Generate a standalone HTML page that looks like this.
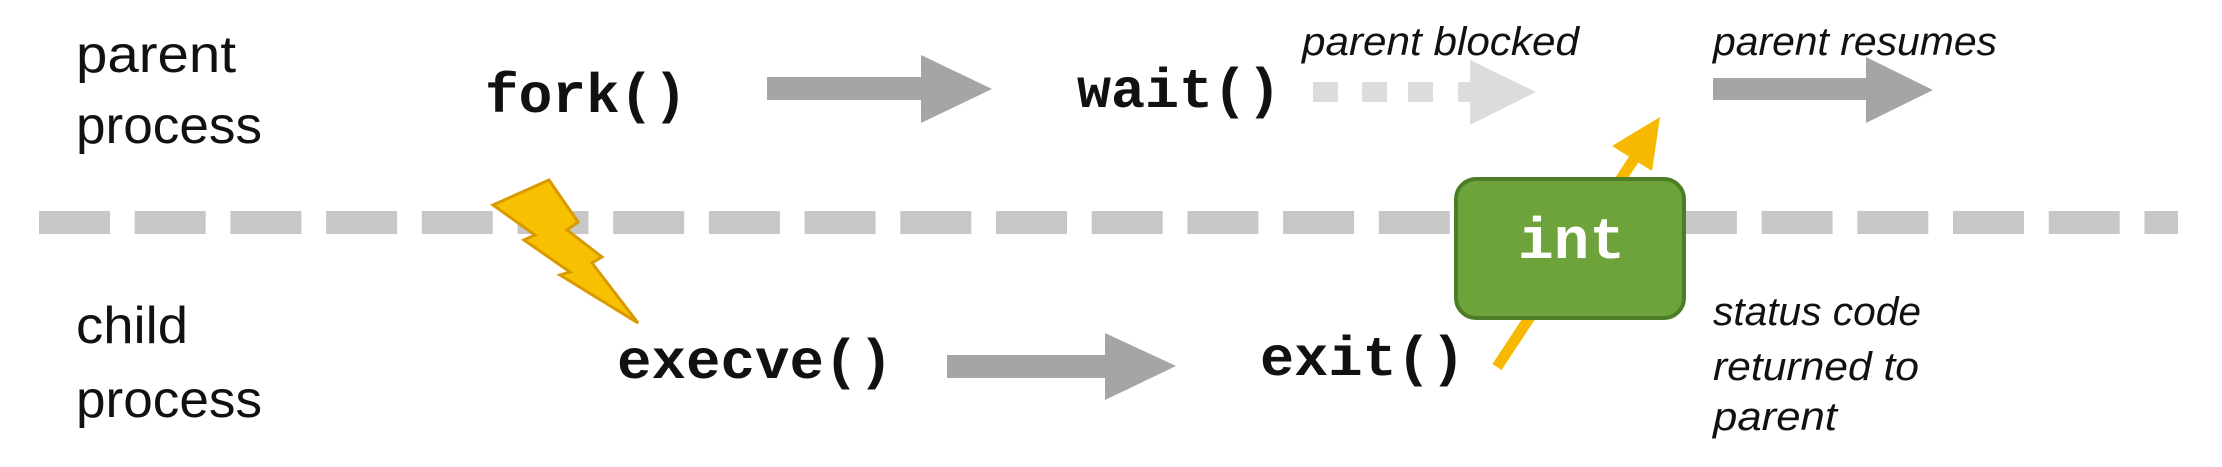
<!DOCTYPE html>
<html><head><meta charset="utf-8"><style>
html,body{margin:0;padding:0;background:#fff;}
svg{display:block;}
</style></head><body>
<svg width="2222" height="467" viewBox="0 0 2222 467" xmlns="http://www.w3.org/2000/svg">
<rect width="2222" height="467" fill="#fff"/>
<line x1="39" y1="222.5" x2="2178" y2="222.5" stroke="#c8c7c7" stroke-width="23" stroke-dasharray="71 24.7"/>
<g font-family="Liberation Sans, sans-serif" font-size="52" fill="#111">
<text x="76" y="72" textLength="160" lengthAdjust="spacingAndGlyphs">parent</text>
<text x="76" y="143" textLength="186" lengthAdjust="spacingAndGlyphs">process</text>
<text x="76" y="343" textLength="112" lengthAdjust="spacingAndGlyphs">child</text>
<text x="76" y="417" textLength="186" lengthAdjust="spacingAndGlyphs">process</text>
</g>
<g font-family="Liberation Mono, monospace" font-weight="bold" font-size="56" fill="#111">
<text x="485" y="112" textLength="202" lengthAdjust="spacingAndGlyphs">fork()</text>
<text x="1077" y="107" textLength="204" lengthAdjust="spacingAndGlyphs">wait()</text>
<text x="617" y="378" textLength="276" lengthAdjust="spacingAndGlyphs">execve()</text>
<text x="1260" y="375" textLength="205" lengthAdjust="spacingAndGlyphs">exit()</text>
</g>
<polygon points="767,77 921,77 921,55 992,89 921,123 921,100 767,100" fill="#a6a5a5"/>
<polygon points="947,355 1105,355 1105,333 1176,366 1105,400 1105,378 947,378" fill="#a6a5a5"/>
<polygon points="1713,78 1866,78 1866,57 1933,90 1866,123 1866,100 1713,100" fill="#a6a5a5"/>
<g fill="#dcdcdc">
<rect x="1313" y="82" width="25" height="20"/>
<rect x="1362" y="82" width="25" height="20"/>
<rect x="1408" y="82" width="25" height="20"/>
<polygon points="1458,82 1470,82 1470,60 1536,92 1470,125 1470,102 1458,102"/>
</g>
<g font-family="Liberation Sans, sans-serif" font-style="italic" font-size="40" fill="#111">
<text x="1302" y="55" textLength="277" lengthAdjust="spacingAndGlyphs">parent blocked</text>
<text x="1713" y="55" textLength="284" lengthAdjust="spacingAndGlyphs">parent resumes</text>
<text x="1713" y="325" textLength="208" lengthAdjust="spacingAndGlyphs">status code</text>
<text x="1713" y="380" textLength="206" lengthAdjust="spacingAndGlyphs">returned to</text>
<text x="1713" y="430" textLength="124" lengthAdjust="spacingAndGlyphs">parent</text>
</g>
<polygon points="549,180 578,222 567,230 602,257 592,263 638,323 560,275 570,272 524,240 535,235 493,205" fill="#f7c000" stroke="#d99a00" stroke-width="3"/>
<line x1="1497" y1="367" x2="1640" y2="150" stroke="#f6b900" stroke-width="11"/>
<polygon points="1660,117 1612,146 1652,171" fill="#f6b900"/>
<rect x="1456" y="179" width="228" height="139" rx="20" ry="20" fill="#6da33a" stroke="#4d7e27" stroke-width="4"/>
<text x="1518" y="258" font-family="Liberation Mono, monospace" font-weight="bold" font-size="58" fill="#fff" textLength="107" lengthAdjust="spacingAndGlyphs">int</text>
</svg>
</body></html>
